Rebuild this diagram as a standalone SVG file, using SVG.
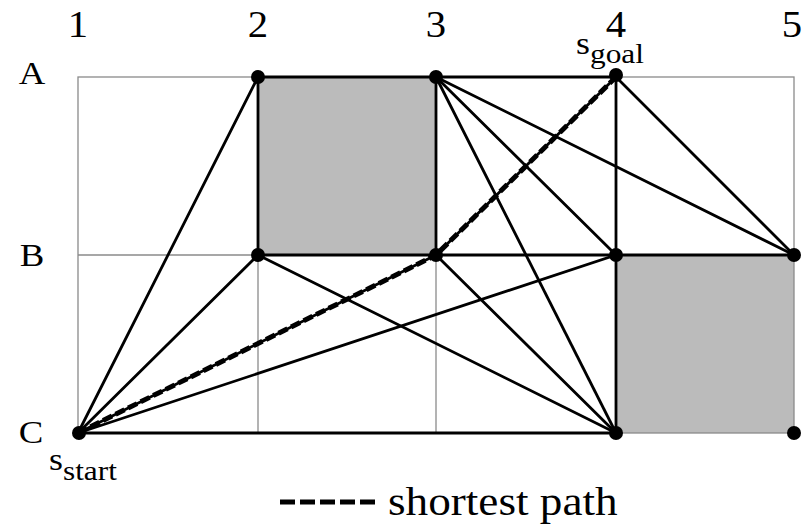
<svg xmlns="http://www.w3.org/2000/svg" width="803" height="524" viewBox="0 0 803 524">
<style>
.grid{stroke:#8a8a8a;stroke-width:1.3;fill:none}
.cell{fill:#bbbbbb;stroke:none}
.e{stroke:#000;stroke-width:2.8;fill:none;stroke-linecap:round}
.path{stroke:#000;stroke-width:5;fill:none;stroke-dasharray:10 4}
.n{fill:#000}
.lbl{font-family:"Liberation Serif","Times New Roman",serif;fill:#000}
</style>
<rect width="803" height="524" fill="#fff"/>
<g id="grid">
<rect class="cell" x="258" y="77" width="178" height="178"/>
<rect class="cell" x="616" y="255" width="178" height="178"/>
<rect class="grid" x="78" y="77" width="716" height="356"/>
<line class="grid" x1="258" y1="77" x2="258" y2="433"/>
<line class="grid" x1="436" y1="77" x2="436" y2="433"/>
<line class="grid" x1="616" y1="77" x2="616" y2="433"/>
<line class="grid" x1="78" y1="255" x2="794" y2="255"/>
</g>
<g id="connectors">
<line class="e" x1="78" y1="433" x2="258" y2="77"/>
<line class="e" x1="78" y1="433" x2="258" y2="255"/>
<line class="e" x1="78" y1="433" x2="436" y2="255"/>
<line class="e" x1="78" y1="433" x2="616" y2="255"/>
<line class="e" x1="78" y1="433" x2="616" y2="433"/>
<line class="e" x1="258" y1="77" x2="436" y2="77"/>
<line class="e" x1="258" y1="77" x2="258" y2="255"/>
<line class="e" x1="436" y1="77" x2="616" y2="77"/>
<line class="e" x1="436" y1="77" x2="436" y2="255"/>
<line class="e" x1="436" y1="77" x2="616" y2="255"/>
<line class="e" x1="436" y1="77" x2="616" y2="433"/>
<line class="e" x1="436" y1="77" x2="794" y2="255"/>
<line class="e" x1="616" y1="77" x2="616" y2="255"/>
<line class="e" x1="616" y1="77" x2="794" y2="255"/>
<line class="e" x1="616" y1="77" x2="436" y2="255"/>
<line class="e" x1="258" y1="255" x2="436" y2="255"/>
<line class="e" x1="258" y1="255" x2="616" y2="433"/>
<line class="e" x1="436" y1="255" x2="616" y2="255"/>
<line class="e" x1="436" y1="255" x2="616" y2="433"/>
<line class="e" x1="616" y1="255" x2="794" y2="255"/>
<line class="e" x1="616" y1="255" x2="616" y2="433"/>
<polyline id="shortest-path" class="path" points="78,433 436,255 616,77"/>
</g>
<g id="node-A2"><circle class="n" cx="258" cy="77" r="7"/></g>
<g id="node-A3"><circle class="n" cx="436" cy="77" r="7"/></g>
<g id="node-A4"><circle class="n" cx="616" cy="75" r="7"/></g>
<g id="node-B2"><circle class="n" cx="258" cy="255" r="7"/></g>
<g id="node-B3"><circle class="n" cx="436" cy="255" r="7"/></g>
<g id="node-B4"><circle class="n" cx="616" cy="255" r="7"/></g>
<g id="node-B5"><circle class="n" cx="794" cy="255" r="7"/></g>
<g id="node-C1"><circle class="n" cx="79" cy="433" r="7"/></g>
<g id="node-C4"><circle class="n" cx="616" cy="433" r="7"/></g>
<g id="node-C5"><circle class="n" cx="794" cy="433" r="7"/></g>
<g id="labels" class="lbl">
<text transform="translate(78,37) scale(1.1,1)" font-size="37" text-anchor="middle">1</text>
<text transform="translate(258,37) scale(1.1,1)" font-size="37" text-anchor="middle">2</text>
<text transform="translate(436,37) scale(1.1,1)" font-size="37" text-anchor="middle">3</text>
<text transform="translate(616,37) scale(1.1,1)" font-size="37" text-anchor="middle">4</text>
<text transform="translate(792,37) scale(1.1,1)" font-size="37" text-anchor="middle">5</text>
<text transform="translate(32,84) scale(1.15,1)" font-size="32" text-anchor="middle">A</text>
<text transform="translate(32,266) scale(1.15,1)" font-size="32" text-anchor="middle">B</text>
<text transform="translate(31,443) scale(1.15,1)" font-size="32" text-anchor="middle">C</text>
<text transform="translate(576,54) scale(1.12,1)" font-size="32">s<tspan font-size="28" dy="9">goal</tspan></text>
<text transform="translate(49,470) scale(1.12,1)" font-size="32">s<tspan font-size="28" dy="10">start</tspan></text>
</g>
<g id="legend">
<line x1="280" y1="502" x2="377" y2="502" stroke="#000" stroke-width="5" stroke-dasharray="15 5"/>
<text transform="translate(388,515) scale(1.13,1)" font-size="40" class="lbl">shortest path</text>
</g>
</svg>
